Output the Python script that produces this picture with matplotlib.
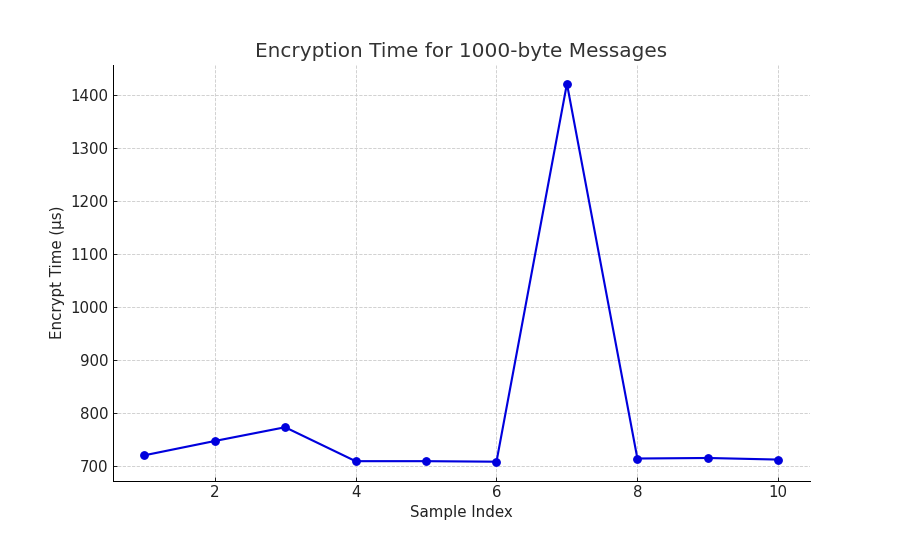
import matplotlib
matplotlib.use('Agg')
import matplotlib.pyplot as plt

sample_index = [1, 2, 3, 4, 5, 6, 7, 8, 9, 10]
encrypt_time = [721, 748, 774, 710, 710, 709, 1422, 715, 716, 713]

fig, ax = plt.subplots(figsize=(10, 6), dpi=90)

ax.plot(sample_index, encrypt_time, marker='o', color='#0000dd', linewidth=1.7, markersize=6)

ax.set_title('Encryption Time for 1000-byte Messages', fontsize=16, color='#333333')
ax.set_xlabel('Sample Index', fontsize=12, color='#222222')
ax.set_ylabel('Encrypt Time (µs)', fontsize=12, color='#222222')

ax.grid(True, linestyle='--', color='#cccccc', linewidth=0.7)
ax.spines['top'].set_visible(False)
ax.spines['right'].set_visible(False)
ax.tick_params(direction='in', labelsize=12, colors='#222222')

plt.savefig('out.png', dpi=90)
